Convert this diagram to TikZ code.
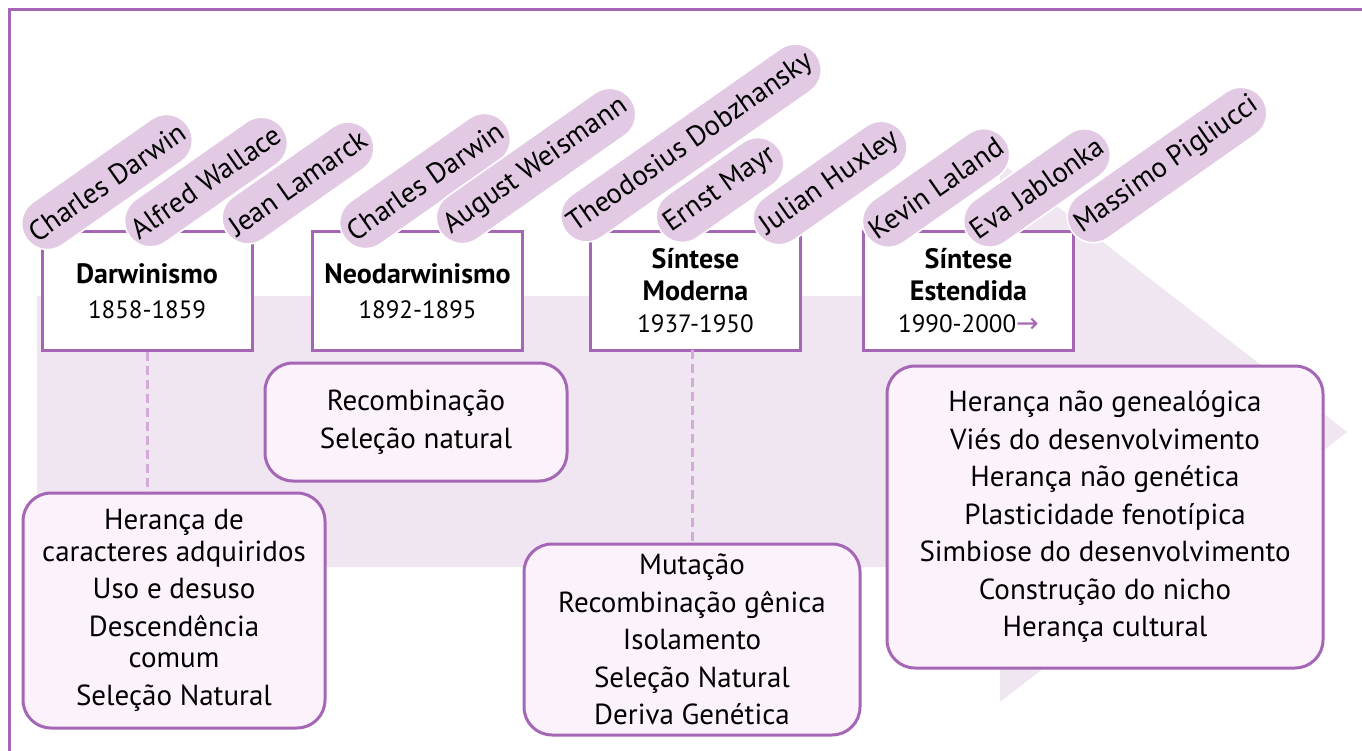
\documentclass[tikz,border=0pt]{standalone}
\usepackage{fontspec}
\setmainfont{PT Sans}
\newfontfamily\symfont{DejaVu Sans}
\usetikzlibrary{shapes,shapes.misc,arrows}
\definecolor{boxline}{HTML}{A566B5}
\definecolor{pillc}{HTML}{E2CAE4}
\definecolor{bgarrow}{HTML}{F0E6F2}
\definecolor{featc}{HTML}{FCF2FC}
\definecolor{dashc}{HTML}{D5A9DA}
\tikzstyle{era} = [rectangle, draw=boxline, line width=3pt, fill=white,
    minimum width=210pt, minimum height=118pt, align=center,
    font=\fontsize{25}{35}\selectfont]
\tikzstyle{feat} = [rectangle, draw=boxline, line width=3pt, fill=featc,
    rounded corners=28pt, align=center, font=\fontsize{29}{37.5}\selectfont]
\tikzstyle{pill} = [rounded rectangle, fill=pillc, draw=white, line width=1.5pt,
    rotate=35, minimum height=52pt, inner xsep=4pt,
    font=\fontsize{28.5}{30}\selectfont]
\tikzstyle{link} = [draw=dashc, line width=3pt, dash pattern=on 9pt off 5pt]
\newcommand{\ttl}[1]{{\fontsize{28}{35}\selectfont\bfseries #1}}

\begin{document}
\begin{tikzpicture}[x=1pt, y=-1pt]
	\useasboundingbox (0,0) rectangle (1362,751);
	% frame and background arrow
	\draw[boxline, line width=3pt] (9,751) -- (9,10) -- (1362,10);
	\fill[bgarrow] (37,296) -- (1000,296) -- (1000,162) -- (1347,432)
		-- (1000,702) -- (1000,567) -- (37,567) -- cycle;

	% eras
	\node [era] (darw) at (147,291) {\ttl{Darwinismo}\\1858-1859};
	\node [era] (neo) at (417.5,291) {\ttl{Neodarwinismo}\\1892-1895};
	\node [era] (mod) at (695.5,291) {\ttl{Síntese}\\[-3pt]\ttl{Moderna}\\[-3pt]1937-1950};
	\node [era] (ext) at (968.5,291) {\ttl{Síntese}\\[-3pt]\ttl{Estendida}\\[-3pt]1990-2000{\color{boxline}\symfont\fontsize{27}{27}\selectfont →}};

	% features
	\node [feat, minimum width=302pt, minimum height=235pt] (darwfeat) at (174,610.5)
		{Herança de\\[-6pt]caracteres adquiridos\\Uso e desuso\\Descendência\\[-6pt]comum\\Seleção Natural};
	\node [feat, minimum width=302pt, minimum height=118pt] (neofeat) at (416,422)
		{Recombinação\\Seleção natural};
	\node [feat, minimum width=336pt, minimum height=191pt] (modfeat) at (692,639.5)
		{Mutação\\Recombinação gênica\\Isolamento\\Seleção Natural\\Deriva Genética};
	\node [feat, minimum width=436pt, minimum height=302pt] (extfeat) at (1105,517)
		{Herança não genealógica\\Viés do desenvolvimento\\Herança não genética\\Plasticidade fenotípica\\Simbiose do desenvolvimento\\Construção do nicho\\Herança cultural};

	\path [link] (darw.south) -- (darw.south |- darwfeat.north);
	\path [link] (692,350) -- (692,544);

	% names
	\node [pill] (darwin1) at (107,182) {Charles Darwin};
	\node [pill] (wallace) at (206,182) {Alfred Wallace};
	\node [pill] (lamarck) at (298,183) {Jean Lamarck};
	\node [pill] (darwin2) at (425,181) {Charles Darwin};
	\node [pill] (weismann) at (536,166) {August Weismann};
	\node [pill] (dobzh) at (691,143) {Theodosius Dobzhansky};
	\node [pill] (mayr) at (720,190) {Ernst Mayr};
	\node [pill] (huxley) at (830,183) {Julian Huxley};
	\node [pill] (laland) at (936,188) {Kevin Laland};
	\node [pill] (jablonka) at (1037,188) {Eva Jablonka};
	\node [pill] (pigliucci) at (1167,165) {Massimo Pigliucci};
\end{tikzpicture}
\end{document}
